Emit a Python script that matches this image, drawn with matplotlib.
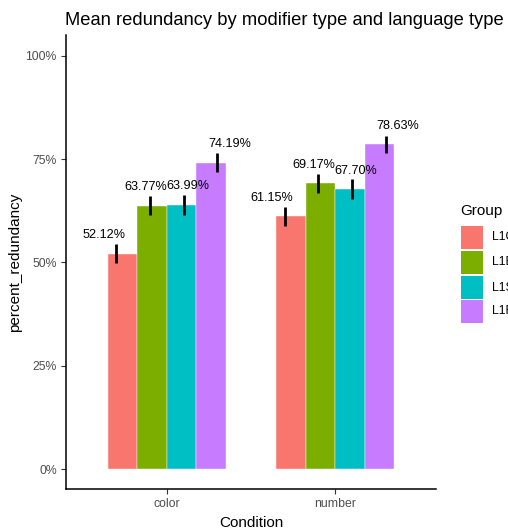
import matplotlib
matplotlib.use("Agg")
import matplotlib.pyplot as plt
import numpy as np
from matplotlib.patches import Rectangle
from matplotlib.ticker import FuncFormatter

plt.rcParams['font.family'] = ['Liberation Sans', 'DejaVu Sans']

conditions = ["color", "number"]
groups = ["L1Chinese", "L1English", "L1Spanish", "L1French"]
colors = ["#F8766D", "#7CAE00", "#00BFC4", "#C77CFF"]
means = {
    "color":  [0.5212, 0.6377, 0.6399, 0.7419],
    "number": [0.6115, 0.6917, 0.6770, 0.7863],
}
errs = {
    "color":  [0.023, 0.0235, 0.024, 0.022],
    "number": [0.0235, 0.0225, 0.024, 0.021],
}
yticks = [0, 0.25, 0.5, 0.75, 1.0]

W, H = 508, 531
fig = plt.figure(figsize=(W / 100, H / 100), dpi=100)
ax = fig.add_axes([66 / W, 1 - 489 / H, (436 - 66) / W, (489 - 35) / H])

n = len(groups)
xs = np.arange(1, len(conditions) + 1)
bar_dodge = 0.7
err_dodge = 0.8
lab_dodge = 1.0
for i, cond in enumerate(conditions):
    for j in range(n):
        off = (j - (n - 1) / 2) / n
        v = means[cond][j]
        e = errs[cond][j]
        ax.bar(xs[i] + off * bar_dodge, v, width=bar_dodge / n, color=colors[j],
               edgecolor='white', linewidth=0.3, zorder=2)
        ax.errorbar(xs[i] + off * err_dodge, v, yerr=e, fmt='none', ecolor='black',
                    elinewidth=2.0, capsize=0, zorder=3)
        ax.text(xs[i] + off * lab_dodge, v + 0.03, f"{v * 100:.2f}%", ha='center',
                va='bottom', fontsize=9.1, color='black', zorder=4)

ax.set_xlim(0.4, 2.6)
ax.set_ylim(-0.0484, 1.0508)
ax.set_xticks(xs)
ax.set_xticklabels(conditions)
ax.set_yticks(yticks)
ax.yaxis.set_major_formatter(FuncFormatter(lambda y, p: f"{y * 100:.0f}%"))
ax.tick_params(axis='both', labelsize=8.8, labelcolor='#4D4D4D', color='#333333',
               length=3.5, width=0.8, pad=3)
for s in ['top', 'right']:
    ax.spines[s].set_visible(False)
for s in ['left', 'bottom']:
    ax.spines[s].set_linewidth(1.1)
    ax.spines[s].set_color('black')

ax.set_xlabel("Condition", fontsize=11, labelpad=4)
ax.set_ylabel("percent_redundancy", fontsize=11, labelpad=2.5)

fig.text(65 / W, 1 - 25 / H, "Mean redundancy by modifier type and language type",
         fontsize=13.2, ha='left', va='baseline')

# legend
fig.text(460 / W, 1 - 211 / H, "Group", fontsize=11, ha='left', va='center')
key_tops = [226, 251, 276, 300]
for j, g in enumerate(groups):
    t = key_tops[j]
    fig.patches.append(Rectangle((461 / W, 1 - (t + 22.5) / H), 22 / W, 22.5 / H,
                                 transform=fig.transFigure, facecolor=colors[j],
                                 edgecolor='none'))
    fig.text(492 / W, 1 - (t + 11.5) / H, g, fontsize=8.8, ha='left', va='center')

fig.savefig("out.png", dpi=100)
